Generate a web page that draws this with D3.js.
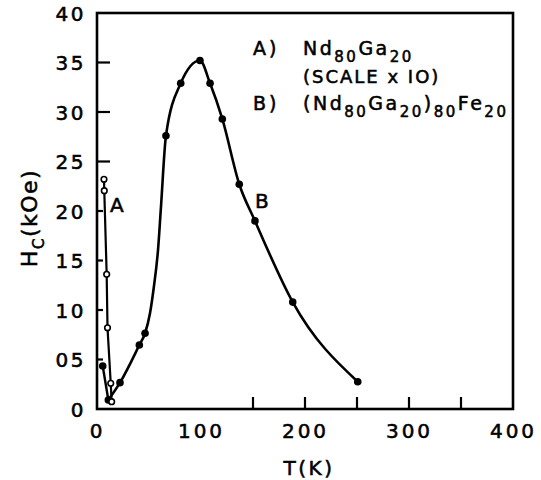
<!DOCTYPE html>
<html>
<head>
<meta charset="utf-8">
<script src="https://cdn.jsdelivr.net/npm/d3@7"></script>
<style>
  html, body { margin: 0; padding: 0; background: #fff; }
  text { font-family: "DejaVu Sans", sans-serif; fill: #000; stroke: #000; stroke-width: 0.55px; }
</style>
</head>
<body>
<svg id="chart" width="541" height="480"></svg>
<script>
// ---- data ----
// Curve A: Nd80Ga20 (scale x 10), open circles
const tempA = [6.7, 7.0, 9.3, 10.1, 13.2, 14.1];
const hcA   = [23.2, 22.05, 13.6, 8.2, 2.6, 0.74];
// Curve B: (Nd80Ga20)80Fe20, filled circles
const tempB = [5.5, 10.9, 22.1, 40.7, 46.2, 66.3, 80.5, 99, 108.7, 120.5, 136.8, 151.9, 188.2, 250.7];
const hcB   = [4.34, 0.91, 2.66, 6.46, 7.65, 27.6, 32.9, 35.2, 32.9, 29.3, 22.7, 19.0, 10.8, 2.76];
// traced positions of the drawn curve B between markers (steep rise)
const traceBT = [51, 54.5, 58.7, 61.5];
const traceBH = [9.7, 12.2, 16.1, 20.4];
// axis ticks
const xLabelTicks = [0, 100, 200, 300, 400];
const xMarkTicks  = [150, 200, 250, 300, 350];
const yLabelTicks = [0, 5, 10, 15, 20, 25, 30, 35, 40];
const yLabelText  = ["0", "05", "10", "15", "20", "25", "30", "35", "40"];
const yShortTicks = [5, 10, 15, 20];
const yLongTicks  = [25, 30, 35];

// ---- layout ----
const svg = d3.select("#chart");
const x = d3.scaleLinear().domain([0, 400]).range([97, 513]);
const y = d3.scaleLinear().domain([0, 40]).range([409, 13]);

svg.append("rect").attr("width", 541).attr("height", 480).attr("fill", "#fff");

// frame
svg.append("rect")
  .attr("x", x(0)).attr("y", y(40))
  .attr("width", x(400) - x(0)).attr("height", y(0) - y(40))
  .attr("fill", "none").attr("stroke", "#000").attr("stroke-width", 2.6);

// bottom tick marks (inward)
svg.append("g").selectAll("line").data(xMarkTicks).join("line")
  .attr("x1", d => x(d)).attr("x2", d => x(d))
  .attr("y1", y(0)).attr("y2", y(0) - 12)
  .attr("stroke", "#000").attr("stroke-width", 2.2);

// bottom tick labels via axis
const xAxis = d3.axisBottom(x).tickValues(xLabelTicks).tickSize(0).tickPadding(0).tickFormat(d3.format("d"));
const gx = svg.append("g").attr("transform", `translate(0,${y(0)})`).call(xAxis);
gx.select(".domain").remove();
gx.selectAll("text")
  .attr("y", 29).attr("dy", 0)
  .style("font-size", "20px").style("letter-spacing", "3px")
  .attr("font-family", null);

// left ticks (inward)
svg.append("g").selectAll("line").data(yShortTicks).join("line")
  .attr("x1", x(0)).attr("x2", x(0) + 6)
  .attr("y1", d => y(d)).attr("y2", d => y(d))
  .attr("stroke", "#000").attr("stroke-width", 2.2);
svg.append("g").selectAll("line").data(yLongTicks).join("line")
  .attr("x1", x(0)).attr("x2", x(0) + 13)
  .attr("y1", d => y(d)).attr("y2", d => y(d))
  .attr("stroke", "#000").attr("stroke-width", 2.2);

const yAxis = d3.axisLeft(y).tickValues(yLabelTicks).tickSize(0).tickPadding(11)
  .tickFormat((d, i) => yLabelText[i]);
const gy = svg.append("g").attr("transform", `translate(${x(0)},0)`).call(yAxis);
gy.select(".domain").remove();
gy.selectAll("text")
  .attr("dy", "0.36em")
  .style("font-size", "20px").style("letter-spacing", "2.5px")
  .attr("font-family", null);

// axis titles
svg.append("text").attr("x", 309).attr("y", 475).attr("text-anchor", "middle")
  .style("font-size", "20px").style("letter-spacing", "2.5px").text("T(K)");

function rich(parent, px, py, parts, size, subSize, spacing, anchor) {
  const t = parent.append("text").attr("x", px).attr("y", py)
    .style("font-size", size + "px").style("letter-spacing", spacing + "px")
    .attr("text-anchor", anchor || "start");
  let sub = false;
  parts.forEach(([s, isSub]) => {
    const ts = t.append("tspan").text(s);
    if (isSub && !sub) { ts.attr("dy", 7).style("font-size", subSize + "px"); }
    else if (isSub && sub) { ts.style("font-size", subSize + "px"); }
    else if (!isSub && sub) { ts.attr("dy", -7); }
    sub = isSub;
  });
  return t;
}

const yl = svg.append("g").attr("transform", "translate(37,218) rotate(-90)");
rich(yl, 0, 0, [["H", false], ["C", true], ["(kOe)", false]], 22, 15, 1.5, "middle");

// legend
svg.append("text").attr("x", 253).attr("y", 55).style("font-size", "19px").style("letter-spacing", "3px").text("A)");
rich(svg, 303, 55, [["Nd", false], ["80", true], ["Ga", false], ["20", true]], 19, 15, 2.5);
svg.append("text").attr("x", 303).attr("y", 83).style("font-size", "18px").style("letter-spacing", "2px").text("(SCALE x IO)");
svg.append("text").attr("x", 253).attr("y", 110).style("font-size", "19px").style("letter-spacing", "3px").text("B)");
rich(svg, 303, 110, [["(Nd", false], ["80", true], ["Ga", false], ["20", true], [")", false], ["80", true], ["Fe", false], ["20", true]], 19, 15, 2.5);

// curve labels
svg.append("text").attr("x", 110).attr("y", 212).style("font-size", "20px").text("A");
svg.append("text").attr("x", 255).attr("y", 208).style("font-size", "20px").text("B");

// ---- curves ----
const ptsA = tempA.map((t, i) => [t, hcA[i]]);
const ptsB = tempB.map((t, i) => [t, hcB[i]]);
const traceB = ptsB.concat(traceBT.map((t, i) => [t, traceBH[i]])).sort((a, b) => a[0] - b[0]);

const lineLin = d3.line().x(d => x(d[0])).y(d => y(d[1]));
const lineSmooth = d3.line().x(d => x(d[0])).y(d => y(d[1])).curve(d3.curveMonotoneX);

svg.append("path").attr("d", lineLin(ptsA))
  .attr("fill", "none").attr("stroke", "#000").attr("stroke-width", 2.2);
svg.append("path").attr("d", lineLin(traceB.slice(0, 2)))
  .attr("fill", "none").attr("stroke", "#000").attr("stroke-width", 2.4);
svg.append("path").attr("d", lineSmooth(traceB.slice(1)))
  .attr("fill", "none").attr("stroke", "#000").attr("stroke-width", 2.6);

// markers
svg.append("g").selectAll("circle").data(ptsB).join("circle")
  .attr("cx", d => x(d[0])).attr("cy", d => y(d[1])).attr("r", 3.8)
  .attr("fill", "#000");
svg.append("g").selectAll("circle").data(ptsA).join("circle")
  .attr("cx", d => x(d[0])).attr("cy", d => y(d[1])).attr("r", 2.8)
  .attr("fill", "#fff").attr("stroke", "#000").attr("stroke-width", 1.6);
</script>
</body>
</html>
